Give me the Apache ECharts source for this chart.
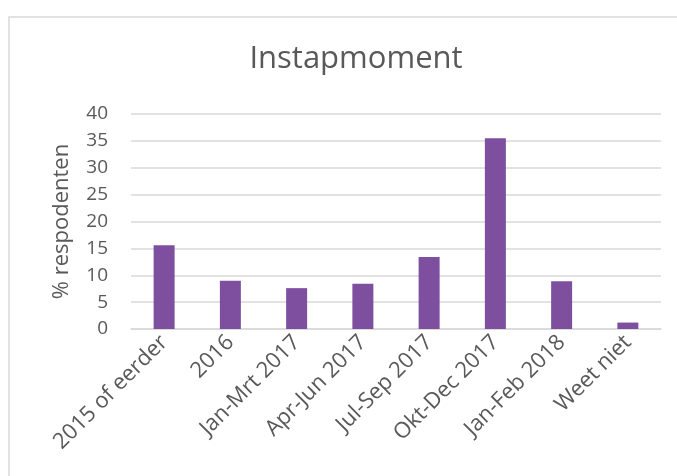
<!DOCTYPE html>
<html>
<head>
<meta charset="utf-8">
<script src="https://cdn.jsdelivr.net/npm/echarts@6/dist/echarts.min.js"></script>
<style>
  html, body { margin: 0; padding: 0; background: #fff; }
  #chart { width: 677px; height: 476px; }
</style>
</head>
<body>
<div id="chart"></div>
<script>
const categories = ['2015 of eerder', '2016', 'Jan-Mrt 2017', 'Apr-Jun 2017', 'Jul-Sep 2017', 'Okt-Dec 2017', 'Jan-Feb 2018', 'Weet niet']
const values = [15.6, 9.0, 7.6, 8.4, 13.4, 35.5, 8.9, 1.2]

const font = 'Open Sans'
const textColor = '#595959'

const chart = echarts.init(document.getElementById('chart'))
chart.setOption({
  animation: false,
  title: {
    text: 'Instapmoment',
    left: 351,
    top: 39,
    textAlign: 'center',
    textStyle: { fontFamily: font, fontSize: 31, fontWeight: 'normal', color: textColor },
  },
  graphic: [
    {
      type: 'rect',
      shape: { x: 9, y: 17, width: 700, height: 480 },
      style: { fill: 'none', stroke: '#d9d9d9', lineWidth: 1.5 },
      z: -1,
    },
  ],
  grid: { left: 131, right: 16, top: 114, bottom: 147 },
  xAxis: {
    type: 'category',
    data: categories,
    axisTick: { show: false },
    axisLine: { lineStyle: { color: '#d9d9d9', width: 1.5 } },
    axisLabel: {
      rotate: 45,
      interval: 0,
      margin: 10,
      fontFamily: font,
      fontSize: 22,
      color: textColor,
    },
  },
  yAxis: {
    type: 'value',
    min: 0,
    max: 40,
    interval: 5,
    name: '% respodenten',
    nameLocation: 'middle',
    nameGap: 58,
    nameTextStyle: { fontFamily: font, fontSize: 22, color: textColor },
    axisLine: { show: false },
    axisTick: { show: false },
    axisLabel: { fontFamily: font, fontSize: 19, color: textColor, margin: 23 },
    splitLine: { lineStyle: { color: '#d9d9d9', width: 1.5 } },
  },
  series: [
    {
      type: 'bar',
      data: values,
      barWidth: 21,
      itemStyle: { color: '#7f4f9f' },
    },
  ],
})
</script>
</body>
</html>
